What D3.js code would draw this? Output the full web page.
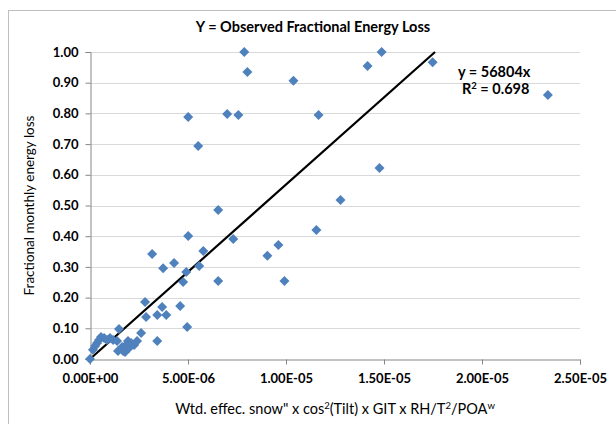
<!DOCTYPE html>
<html>
<head>
<meta charset="utf-8">
<script src="https://cdn.jsdelivr.net/npm/d3@7"></script>
<style>
  body { margin: 0; background: #fff; }
  text { font-family: Lato, "Liberation Sans", sans-serif; font-weight: bold; fill: #000; }
</style>
</head>
<body>
<div id="vis"></div>
<script>
// x values (units 1e-6)
var xVals = [7.87, 14.88, 14.16, 17.48, 8.03, 10.38, 23.36, 5.01, 7.00, 7.57,
             11.66, 5.52, 14.77, 12.78, 6.54, 5.01, 7.31, 11.55, 9.61, 9.05,
             5.78, 3.17, 4.29, 5.57, 3.73, 4.91, 4.75, 6.54, 9.92, 4.60,
             3.68, 3.43, 3.89, 2.86, 2.81, 4.96, 2.61, 3.43, 1.48, 0.00,
             0.15, 0.26, 0.36, 0.46, 0.56, 0.72, 0.87, 1.02, 1.18, 1.38,
             1.43, 1.64, 1.79, 1.84, 1.99, 2.10, 2.25, 2.40, 1.94, 1.69];
var yVals = [1.00, 1.00, 0.954, 0.967, 0.935, 0.906, 0.86, 0.788, 0.798, 0.795,
             0.795, 0.694, 0.622, 0.518, 0.485, 0.401, 0.391, 0.42, 0.371, 0.336,
             0.352, 0.342, 0.313, 0.303, 0.296, 0.283, 0.251, 0.254, 0.254, 0.173,
             0.169, 0.143, 0.143, 0.137, 0.186, 0.104, 0.085, 0.059, 0.098, 0.00,
             0.03, 0.042, 0.052, 0.062, 0.072, 0.068, 0.062, 0.068, 0.062, 0.059,
             0.026, 0.039, 0.023, 0.046, 0.036, 0.052, 0.046, 0.059, 0.059, 0.026];
var xTicks = [0, 5e-6, 1e-5, 1.5e-5, 2e-5, 2.5e-5];
var xTickLabels = ["0.00E+00", "5.00E-06", "1.00E-05", "1.50E-05", "2.00E-05", "2.50E-05"];
var yTicks = [0, 0.1, 0.2, 0.3, 0.4, 0.5, 0.6, 0.7, 0.8, 0.9, 1.0];
var slope = 56804;

var W = 616, H = 424,
    pLeft = 90, pRight = 580, pTop = 52, pBottom = 359;

var data = xVals.map(function(d, i) { return {x: d * 1e-6, y: yVals[i]}; });

var x = d3.scaleLinear().domain([0, 2.5e-5]).range([pLeft, pRight]);
var y = d3.scaleLinear().domain([0, 1]).range([pBottom, pTop]);

var svg = d3.select("#vis").append("svg")
    .attr("width", W)
    .attr("height", H);

// chart area border
svg.append("rect")
    .attr("x", 8.5).attr("y", 10.5)
    .attr("width", 640).attr("height", 440)
    .attr("fill", "none")
    .attr("stroke", "#bfbfbf");

svg.append("text")
    .attr("x", 313).attr("y", 32)
    .attr("text-anchor", "middle")
    .style("font-size", "14.5px")
    .text("Y = Observed Fractional Energy Loss");

// gridlines
svg.append("g").selectAll("line")
    .data(yTicks.slice(1))
  .enter().append("line")
    .attr("x1", pLeft).attr("x2", pRight)
    .attr("y1", function(d) { return Math.round(y(d)) + .5; })
    .attr("y2", function(d) { return Math.round(y(d)) + .5; })
    .attr("stroke", "#d9d9d9");

var yAxis = svg.append("g")
    .attr("transform", "translate(" + (pLeft + .5) + ",0)")
    .call(d3.axisLeft(y).tickValues(yTicks).tickFormat(d3.format(".2f")).tickSizeOuter(0).tickSize(5).tickPadding(7));

var xAxis = svg.append("g")
    .attr("transform", "translate(0," + (pBottom + .5) + ")")
    .call(d3.axisBottom(x).tickValues(xTicks)
      .tickFormat(function(d, i) { return xTickLabels[i]; })
      .tickSizeOuter(0).tickSize(5).tickPadding(9));

[xAxis, yAxis].forEach(function(a) {
  a.select(".domain").attr("stroke", "#868686");
  a.selectAll(".tick line").attr("stroke", "#868686");
  a.selectAll(".tick text")
      .attr("fill", "#000")
      .style("font-family", "Lato, sans-serif")
      .style("font-weight", "bold")
      .style("font-size", "13px");
});

// trendline through origin
var xEnd = 1 / slope;
svg.append("line")
    .attr("x1", x(0)).attr("y1", y(0))
    .attr("x2", x(xEnd)).attr("y2", y(1))
    .attr("stroke", "#000")
    .attr("stroke-width", 2.2);

svg.append("g").selectAll("path")
    .data(data)
  .enter().append("path")
    .attr("transform", function(d) { return "translate(" + x(d.x) + "," + y(d.y) + ")"; })
    .attr("d", "M0,-5L5,0L0,5L-5,0Z")
    .attr("fill", "#4f81bd");

svg.append("text")
    .attr("x", 458).attr("y", 77)
    .style("font-size", "14.5px")
    .text("y = 56804x");

var r2 = svg.append("text")
    .attr("x", 462).attr("y", 94)
    .style("font-size", "14.5px");
r2.append("tspan").text("R");
r2.append("tspan").attr("dy", -5).style("font-size", "9.5px").text("2");
r2.append("tspan").attr("dy", 5).text(" = 0.698");

// axis titles
var xt = svg.append("text")
    .attr("x", (pLeft + pRight) / 2).attr("y", 414)
    .attr("text-anchor", "middle")
    .style("font-size", "14.5px")
    .style("font-weight", "normal");
xt.append("tspan").text("Wtd. effec. snow\" x cos");
xt.append("tspan").attr("dy", -5).style("font-size", "9.5px").text("2");
xt.append("tspan").attr("dy", 5).text("(Tilt) x GIT x RH/T");
xt.append("tspan").attr("dy", -5).style("font-size", "9.5px").text("2");
xt.append("tspan").attr("dy", 5).text("/POA");
xt.append("tspan").attr("dy", -5).style("font-size", "9.5px").text("w");

svg.append("text")
    .attr("transform", "translate(34," + ((pTop + pBottom) / 2) + ") rotate(-90)")
    .attr("text-anchor", "middle")
    .style("font-size", "13.5px")
    .style("font-weight", "normal")
    .text("Fractional monthly energy loss");
</script>
</body>
</html>
